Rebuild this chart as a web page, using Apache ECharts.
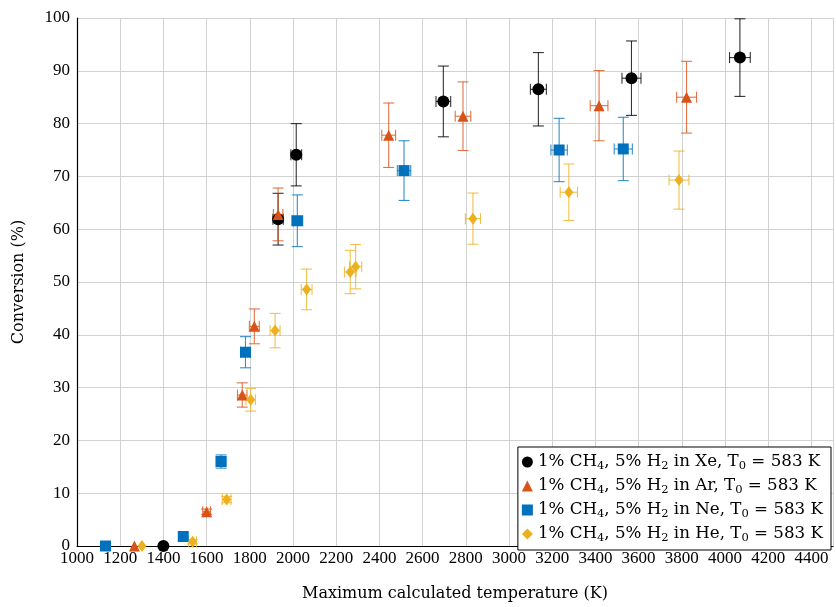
<!DOCTYPE html>
<html><head><meta charset="utf-8">
<script src="https://cdn.jsdelivr.net/npm/echarts@6/dist/echarts.min.js"></script>
<style>html,body{margin:0;padding:0;background:#fff}#c{width:836px;height:607px}</style>
</head><body><div id="c"></div>
<script>
// Xe
const xeT    = [1400, 1931, 2015, 2696, 3136, 3567, 4069];
const xeConv = [0, 61.9, 74.1, 84.2, 86.5, 88.6, 92.5];
const xeTErr = [0, 24, 25, 34, 37, 44, 48];
const xeCErr = [0, 4.9, 5.9, 6.7, 6.95, 7.05, 7.35];
// Ar
const arT    = [1266, 1600, 1765, 1821, 1931, 2443, 2787, 3417, 3822];
const arConv = [0, 6.5, 28.6, 41.6, 62.8, 77.8, 81.4, 83.4, 85.0];
const arTErr = [0, 18, 22, 23, 22, 32, 36, 41, 46];
const arCErr = [0, 0.5, 2.3, 3.3, 5.0, 6.1, 6.5, 6.65, 6.8];
// Ne
const neT    = [1132, 1492, 1667, 1780, 2020, 2514, 3232, 3529];
const neConv = [0, 1.8, 16.0, 36.7, 61.6, 71.1, 75.0, 75.2];
const neTErr = [0, 0, 22, 23, 25, 31, 38, 42];
const neCErr = [0, 0, 1.25, 2.95, 4.9, 5.65, 6.0, 6.0];
// He
const heT    = [1301, 1535, 1693, 1804, 1917, 2063, 2265, 2290, 2833, 3277, 3787];
const heConv = [0, 0.8, 8.8, 27.7, 40.8, 48.6, 51.9, 52.9, 62.0, 67.0, 69.3];
const heTErr = [0, 18, 20, 22, 23, 25, 27, 28, 35, 40, 46];
const heCErr = [0, 0.4, 0.6, 2.15, 3.25, 3.85, 4.1, 4.2, 4.85, 5.35, 5.5];

const gases = ['Xe', 'Ar', 'Ne', 'He'];
const xTicks = [1000, 4500, 200];
const yTicks = [0, 100, 10];

const FONT = 'Liberation Serif';
const TFONT = 'DejaVu Serif';
const colors = {Xe: '#000000', Ar: '#D95319', Ne: '#0072BD', He: '#EDB120'};
const symbols = {Xe: 'circle', Ar: 'triangle', Ne: 'rect', He: 'diamond'};
const symSizes = {Xe: 12, Ar: 11, Ne: 11, He: [9, 12]};

function errSeries(name, T, C, TE, CE) {
  const data = T.map((t, i) => [t, C[i], TE[i], CE[i]]);
  const color = colors[name];
  return {
    type: 'custom', name: name + ' err', data, silent: true,
    encode: {x: 0, y: 1},
    renderItem(params, api) {
      const x = api.value(0), y = api.value(1), dx = api.value(2), dy = api.value(3);
      const ch = [];
      const st = {stroke: color, lineWidth: 1.1, opacity: 0.8};
      const cap = 5.5;
      if (dy > 0) {
        const t = api.coord([x, y + dy]), b = api.coord([x, y - dy]);
        ch.push({type: 'line', shape: {x1: t[0], y1: t[1], x2: b[0], y2: b[1]}, style: st});
        ch.push({type: 'line', shape: {x1: t[0] - cap, y1: t[1], x2: t[0] + cap, y2: t[1]}, style: st});
        ch.push({type: 'line', shape: {x1: b[0] - cap, y1: b[1], x2: b[0] + cap, y2: b[1]}, style: st});
      }
      if (dx > 0) {
        const l = api.coord([x - dx, y]), r = api.coord([x + dx, y]);
        ch.push({type: 'line', shape: {x1: l[0], y1: l[1], x2: r[0], y2: r[1]}, style: st});
        ch.push({type: 'line', shape: {x1: l[0], y1: l[1] - cap, x2: l[0], y2: l[1] + cap}, style: st});
        ch.push({type: 'line', shape: {x1: r[0], y1: r[1] - cap, x2: r[0], y2: r[1] + cap}, style: st});
      }
      return {type: 'group', children: ch};
    }
  };
}
function markSeries(name, T, C) {
  return {
    type: 'scatter', name, data: T.map((t, i) => [t, C[i]]),
    symbol: symbols[name], symbolSize: symSizes[name],
    itemStyle: {color: colors[name], opacity: 1}
  };
}
const sets = {
  Xe: [xeT, xeConv, xeTErr, xeCErr],
  Ar: [arT, arConv, arTErr, arCErr],
  Ne: [neT, neConv, neTErr, neCErr],
  He: [heT, heConv, heTErr, heCErr]
};
const series = [];
gases.forEach(g => {
  const s = sets[g];
  series.push(errSeries(g, s[0], s[1], s[2], s[3]));
  series.push(markSeries(g, s[0], s[1]));
});

const chart = echarts.init(document.getElementById('c'), null, {renderer: 'canvas'});
chart.setOption({
  animation: false,
  backgroundColor: '#fff',
  textStyle: {fontFamily: FONT},
  grid: {left: 77, top: 18, width: 762, height: 539, containLabel: false},
  xAxis: {
    type: 'value', min: xTicks[0], max: xTicks[1], interval: xTicks[2],
    name: 'Maximum calculated temperature (K)', nameLocation: 'middle', nameGap: 40,
    nameTextStyle: {fontFamily: TFONT, fontSize: 16, color: '#000'},
    axisLine: {show: true, lineStyle: {color: '#000', width: 1.2}},
    axisTick: {show: false},
    axisLabel: {fontFamily: FONT, fontSize: 17, color: '#000', margin: 4,
      formatter: v => v >= 4500 ? '' : String(v)},
    splitLine: {show: true, lineStyle: {color: '#d2d2d2', width: 1}}
  },
  yAxis: {
    type: 'value', min: yTicks[0], max: yTicks[1], interval: yTicks[2],
    name: 'Conversion (%)', nameLocation: 'middle', nameGap: 50, nameRotate: 90,
    nameTextStyle: {fontFamily: TFONT, fontSize: 16, color: '#000'},
    axisLine: {show: true, lineStyle: {color: '#000', width: 1.2}},
    axisTick: {show: false},
    axisLabel: {fontFamily: FONT, fontSize: 17, color: '#000', margin: 7},
    splitLine: {show: true, lineStyle: {color: '#d2d2d2', width: 1}}
  },
  legend: {
    data: gases, orient: 'vertical', right: 5, top: 447,
    backgroundColor: '#fff', borderColor: '#000', borderWidth: 1,
    padding: [5, 8, 6, 4], itemGap: 4, itemWidth: 11, itemHeight: 11,
    formatter: n => '1% CH{s|4}, 5% H{s|2} in ' + n + ', T{s|0} = 583 K',
    textStyle: {fontFamily: TFONT, fontSize: 16.7, color: '#000', lineHeight: 20,
      rich: {s: {fontFamily: TFONT, fontSize: 11.5, color: '#000', lineHeight: 20, verticalAlign: 'bottom', padding: [8, 0, 0, 0]}}}
  },
  series
});
</script></body></html>
